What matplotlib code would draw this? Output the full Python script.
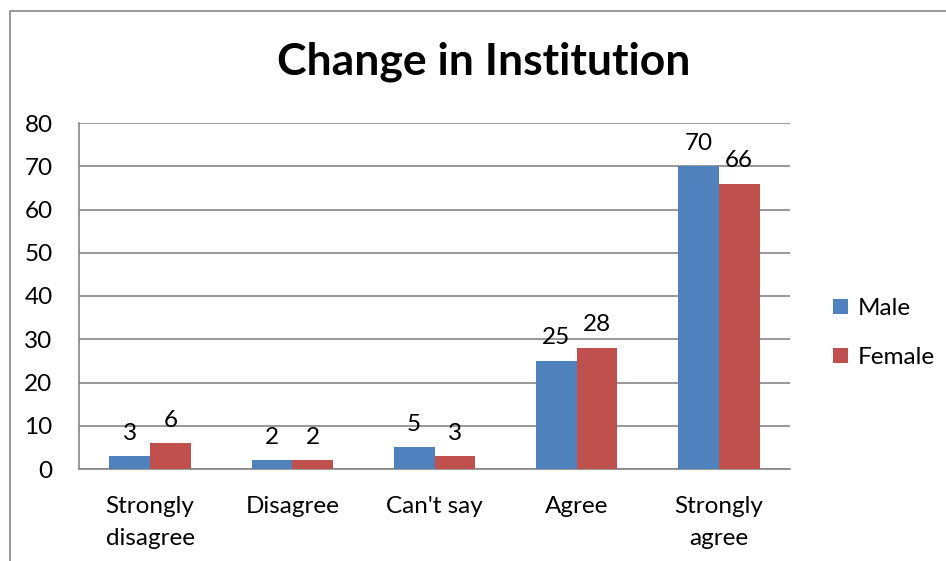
import matplotlib.pyplot as plt
import numpy as np
from matplotlib.lines import Line2D

categories = ["Strongly\ndisagree", "Disagree", "Can't say", "Agree", "Strongly\nagree"]
male = [3, 2, 5, 25, 70]
female = [6, 2, 3, 28, 66]
yticks = [0, 10, 20, 30, 40, 50, 60, 70, 80]

plt.rcParams['font.family'] = ['Lato', 'DejaVu Sans']

fig = plt.figure(figsize=(9.46, 5.61), dpi=100)
ax = fig.add_axes([79/946, 1-469/561, (790-79)/946, (469-123)/561])

x = np.arange(len(categories))
w = 1/3.5
grey = "#868686"
fs = 17.5

b1 = ax.bar(x - w/2, male, w, color="#4F81BD", label="Male", zorder=3)
b2 = ax.bar(x + w/2, female, w, color="#C0504D", label="Female", zorder=3)

for bars, vals in [(b1, male), (b2, female)]:
    for r, v in zip(bars, vals):
        ax.annotate(str(v), (r.get_x() + r.get_width()/2, v),
                    xytext=(0, 9), textcoords="offset points",
                    ha="center", va="bottom", fontsize=fs)

ax.set_xlim(-0.5, len(categories) - 0.5)
ax.set_ylim(0, 80)
ax.set_yticks(yticks)
ax.set_xticks(x)
ax.set_xticklabels(categories, fontsize=fs, linespacing=1.65)
ax.tick_params(axis="y", labelsize=fs, length=0, pad=19)
ax.tick_params(axis="x", length=0, pad=19.5)
ax.yaxis.grid(True, color=grey, linewidth=1.2, zorder=0)
for s in ["top", "right"]:
    ax.spines[s].set_visible(False)
for s in ["left", "bottom"]:
    ax.spines[s].set_color(grey)
    ax.spines[s].set_linewidth(1.2)

fig.text(484/946, 1-62/561, "Change in Institution", ha="center", va="center",
         fontsize=32, fontweight="bold")

fig.legend(handles=[b1, b2], loc="center left", bbox_to_anchor=(833/946, 1-333/561),
           frameon=False, fontsize=fs, handlelength=0.6, handleheight=0.6,
           handletextpad=0.4, labelspacing=1.15, borderpad=0, borderaxespad=0)

fig.add_artist(Line2D([10/946, 10/946, 1], [0, 1-11/561, 1-11/561],
                      transform=fig.transFigure, color=grey, linewidth=1.2))

fig.savefig("out.png", dpi=100)
